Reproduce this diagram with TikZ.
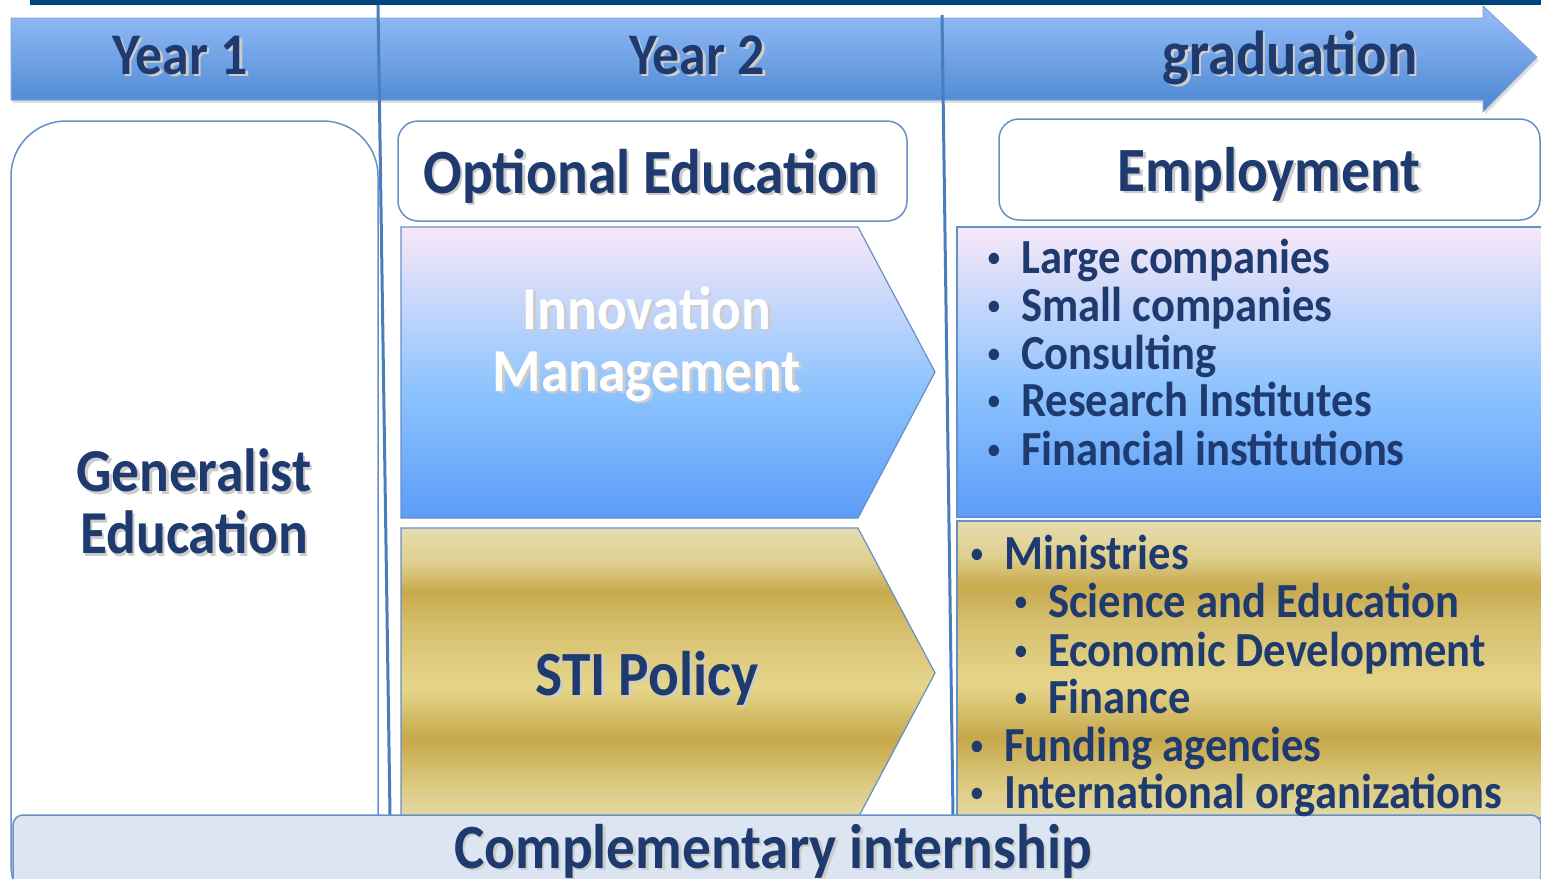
\documentclass[tikz,border=0pt]{standalone}
\usepackage{fontspec}
\setmainfont{Carlito}[FakeStretch=0.91]
\usetikzlibrary{shadows,positioning}

\definecolor{txtblue}{HTML}{1F3A6E}
\definecolor{lineblue}{HTML}{6690C8}
\definecolor{vblue}{HTML}{4A7DBC}
\definecolor{topnavy}{HTML}{00447C}
\definecolor{barfill}{HTML}{DCE6F2}
\definecolor{arrtop}{HTML}{96BEFA}
\definecolor{arrbot}{HTML}{4A86D0}

% innovation / employment gradient
\definecolor{inT}{HTML}{F8E8F8}
\definecolor{inM}{HTML}{8DC3FE}
\definecolor{inB}{HTML}{5C9CF8}
\pgfdeclareverticalshading{innov}{100bp}{color(0bp)=(inB); color(25bp)=(inB);
  color(47bp)=(inM); color(75bp)=(inT); color(100bp)=(inT)}

% gold gradient
\definecolor{gA}{HTML}{E5DDB0}
\definecolor{gB}{HTML}{DFCF8E}
\definecolor{gC}{HTML}{C8AA4E}
\definecolor{gD}{HTML}{D6C070}
\definecolor{gE}{HTML}{E6D68A}
\definecolor{gF}{HTML}{C6A84C}
\definecolor{gG}{HTML}{DCC97E}
\definecolor{gH}{HTML}{E4DAA6}
\pgfdeclareverticalshading{gold}{100bp}{color(0bp)=(gH); color(25bp)=(gH);
  color(31bp)=(gG); color(38.5bp)=(gF); color(47.5bp)=(gE); color(57.5bp)=(gD);
  color(64bp)=(gC); color(69bp)=(gB); color(75bp)=(gA); color(100bp)=(gA)}

% text with a soft shadow
\newcommand\shd[1]{\leavevmode\rlap{\kern2.5pt\raisebox{-2.5pt}{\textcolor{black!20}{#1}}}#1}
\newcommand\itm{\llap{\raisebox{7pt}{\fontsize{27}{27}\selectfont\textbullet}\hspace{21pt}}}

\begin{document}
\begin{tikzpicture}[x=1pt,y=-1pt,
  txt/.style={text=txtblue,inner sep=0pt,anchor=base,
    font=\bfseries\fontsize{59}{62}\selectfont},
  head/.style={txt,font=\bfseries\fontsize{63}{68}\selectfont},
  item/.style={txt,anchor=base west,font=\bfseries\fontsize{49}{48}\selectfont},
  frame/.style={draw=lineblue,line width=1.5pt,fill=white},
  vline/.style={draw=vblue,line width=3pt},
  panel/.style={draw=lineblue,line width=1.2pt}
  ]
\useasboundingbox (0,0) rectangle (1541,878);

% timeline
\fill[topnavy] (30,0) rectangle (1541,5);
\shade[top color=arrtop,bottom color=arrbot,draw=lineblue!80!white,line width=1pt,
  drop shadow={shadow xshift=2pt,shadow yshift=-3pt,opacity=0.25}]
  (11,18) -- (1483,18) -- (1483,6) -- (1537,57) -- (1483,112) -- (1483,100)
  -- (11,100) -- cycle;
\node[txt] (y1) at (180,74) {\shd{Year 1}};
\node[txt] (y2) at (697,74) {\shd{Year 2}};
\node[txt,font=\bfseries\fontsize{62}{62}\selectfont] (grad) at (1290,74) {\shd{graduation}};

% boxes
\draw[frame,rounded corners=55pt] (11,121) rectangle (378,920);
\draw[frame,rounded corners=20pt] (398,121) rectangle (907,221);
\draw[frame,rounded corners=20pt] (999,119) rectangle (1540,220);

\shade[shading=innov,panel] (401,227) -- (858,227) -- (935,372) -- (858,518)
  -- (401,518) -- cycle;
\shade[shading=gold,panel] (401,528) -- (858,528) -- (935,673) -- (858,818)
  -- (401,818) -- cycle;
\shade[shading=innov,panel] (957,227) rectangle (1545,517);
\shade[shading=gold,panel] (957,521) rectangle (1545,818);

% year separators
\draw[vline] (378,5) -- (390,815);
\draw[vline] (942,15) -- (953,815);

% internship bar
\draw[fill=barfill,draw=lineblue,line width=1.5pt,rounded corners=10pt]
  (13,815) rectangle (1541,900);

% labels
\node[head] (opt) at (651,193) {\shd{Optional Education}};
\node[head] (emp) at (1269,191) {\shd{Employment}};
\node[txt,anchor=center,align=center,font=\bfseries\fontsize{61}{62}\selectfont]
  (gen) at (194,503) {\shd{Generalist}\\\shd{Education}};
\node[txt,anchor=center,align=center,text=white,font=\bfseries\fontsize{61}{62}\selectfont]
  (inno) at (647,345) {\shd{Innovation}\\\shd{Management}};
\node[head] (sti) at (647,695) {\shd{STI Policy}};
\node[head] (intern) at (773,868) {\shd{Complementary internship}};

% employment list
\node[item] (e1) at (1021,273) {\itm Large companies};
\node[item] (e2) at (1021,321) {\itm Small companies};
\node[item] (e3) at (1021,369) {\itm Consulting};
\node[item] (e4) at (1021,416) {\itm Research Institutes};
\node[item] (e5) at (1021,465) {\itm Financial institutions};

% public sector list
\node[item] (p1) at (1004,569) {\itm Ministries};
\node[item] (p2) at (1048,617) {\itm Science and Education};
\node[item] (p3) at (1048,666) {\itm Economic Development};
\node[item] (p4) at (1048,713) {\itm Finance};
\node[item] (p5) at (1004,761) {\itm Funding agencies};
\node[item] (p6) at (1004,808) {\itm International organizations};
\end{tikzpicture}
\end{document}
